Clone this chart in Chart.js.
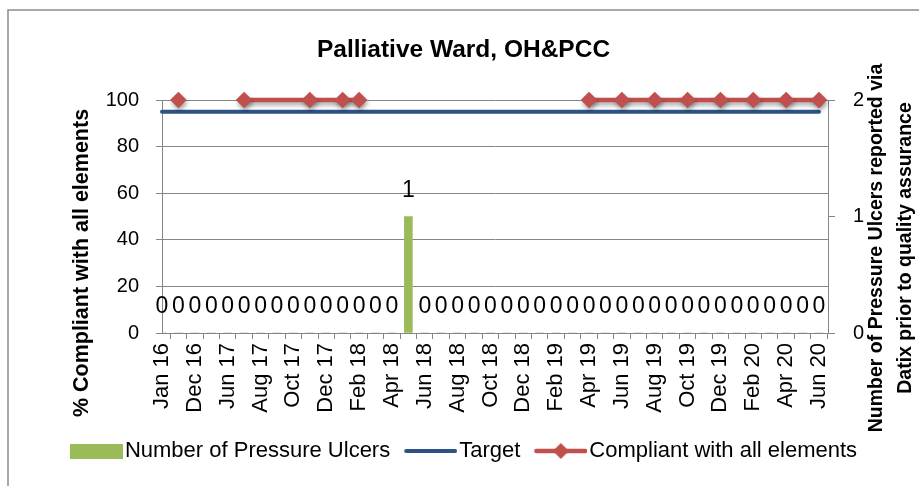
<!DOCTYPE html>
<html><head><meta charset="utf-8">
<script src="https://cdn.jsdelivr.net/npm/chart.js@4.4.1/dist/chart.umd.min.js"></script>
<style>html,body{margin:0;padding:0;background:#fff;}#wrap{width:919px;height:486px;position:relative;}</style>
</head><body><div id="wrap"><canvas id="c" width="919" height="486"></canvas></div>
<script>
const categories = ['Jan 16','Jul 16','Dec 16','Mar 17','Jun 17','Jul 17','Aug 17','Sep 17','Oct 17','Nov 17','Dec 17','Jan 18','Feb 18','Mar 18','Apr 18','May 18','Jun 18','Jul 18','Aug 18','Sep 18','Oct 18','Nov 18','Dec 18','Jan 19','Feb 19','Mar 19','Apr 19','May 19','Jun 19','Jul 19','Aug 19','Sep 19','Oct 19','Nov 19','Dec 19','Jan 20','Feb 20','Mar 20','Apr 20','May 20','Jun 20'];
const tickLabels = ['Jan 16','','Dec 16','','Jun 17','','Aug 17','','Oct 17','','Dec 17','','Feb 18','','Apr 18','','Jun 18','','Aug 18','','Oct 18','','Dec 18','','Feb 19','','Apr 19','','Jun 19','','Aug 19','','Oct 19','','Dec 19','','Feb 20','','Apr 20','','Jun 20'];
const pressureUlcers = [0,0,0,0,0,0,0,0,0,0,0,0,0,0,0,1,0,0,0,0,0,0,0,0,0,0,0,0,0,0,0,0,0,0,0,0,0,0,0,0,0];
const target = [95,95,95,95,95,95,95,95,95,95,95,95,95,95,95,95,95,95,95,95,95,95,95,95,95,95,95,95,95,95,95,95,95,95,95,95,95,95,95,95,95];
const compliant = [null,100,null,null,null,100,null,null,null,100,null,100,100,null,null,null,null,null,null,null,null,null,null,null,null,null,100,null,100,null,100,null,100,null,100,null,100,null,100,null,100];
const compliantBreaksBefore = [5,26];
const leftTicks = [0,20,40,60,80,100];
const rightTicks = [0,1,2];
const chartTitle = 'Palliative Ward, OH&PCC';
const leftTitle = '% Compliant with all elements';
const rightTitle = ['Number of Pressure Ulcers reported via','Datix prior to quality assurance'];
const seriesNames = ['Number of Pressure Ulcers','Target','Compliant with all elements'];

const FONT = "'Liberation Sans', Arial, sans-serif";
const GREEN = '#9BBB59', BLUE = '#2D5386', RED = '#C0504D', GREY = '#868686';

function toXY(arr){ return arr.map((v,i)=>({x:i,y:v})); }

function legendIcon(kind){
  const c = document.createElement('canvas');
  c.width = 62; c.height = 22;
  const g = c.getContext('2d');
  const x0 = 9, x1 = 62, cy = 11;
  if (kind === 'bar'){ g.fillStyle = GREEN; g.fillRect(x0, cy-7, x1-x0, 15); }
  else if (kind === 'target'){ g.strokeStyle = BLUE; g.lineWidth = 4; g.lineCap='round'; g.beginPath(); g.moveTo(x0+2,cy); g.lineTo(x1-2,cy); g.stroke(); }
  else {
    g.strokeStyle = RED; g.lineWidth = 4.5; g.lineCap='round'; g.beginPath(); g.moveTo(x0+2,cy); g.lineTo(x1-2,cy); g.stroke();
    const mx=(x0+x1)/2, r=8; g.fillStyle=RED; g.beginPath(); g.moveTo(mx-r,cy); g.lineTo(mx,cy-r); g.lineTo(mx+r,cy); g.lineTo(mx,cy+r); g.closePath(); g.fill();
  }
  return c;
}
const icons = [legendIcon('bar'), legendIcon('target'), legendIcon('line')];

const bgPlugin = {
  id:'bgBorder',
  beforeDraw(chart){
    const ctx = chart.ctx; ctx.save();
    ctx.fillStyle = '#fff'; ctx.fillRect(0,0,chart.width,chart.height);
    ctx.strokeStyle = '#8c8c8c'; ctx.lineWidth = 1.5;
    ctx.strokeRect(8, 10, 930, 500);
    ctx.restore();
  }
};
const shadowPlugin = {
  id:'lineShadow',
  beforeDatasetDraw(chart, args){
    if (args.index !== 2) return;
    const ctx = chart.ctx; ctx.save();
    ctx.shadowColor = 'rgba(0,0,0,0.35)'; ctx.shadowBlur = 4; ctx.shadowOffsetX = 1; ctx.shadowOffsetY = 3;
  },
  afterDatasetDraw(chart, args){ if (args.index === 2) chart.ctx.restore(); }
};
const labelPlugin = {
  id:'barLabels',
  afterDatasetsDraw(chart){
    const meta = chart.getDatasetMeta(0); const ctx = chart.ctx;
    ctx.save(); ctx.font = '23px ' + FONT; ctx.fillStyle = '#000'; ctx.textAlign='center'; ctx.textBaseline='middle';
    meta.data.forEach((el,i)=>{ ctx.fillText(String(pressureUlcers[i]), el.x, el.y - 26); });
    ctx.restore();
  }
};
const axisTitlePlugin = {
  id:'axisTitles',
  afterDraw(chart){
    const ctx = chart.ctx; ctx.save(); ctx.fillStyle='#000'; ctx.textAlign='center'; ctx.textBaseline='middle';
    ctx.font = 'bold 21.5px ' + FONT;
    ctx.save(); ctx.translate(82, 263); ctx.rotate(-Math.PI/2); ctx.fillText(leftTitle, 0, 0); ctx.restore();
    ctx.font = 'bold 19.5px ' + FONT;
    ctx.save(); ctx.translate(877, 248); ctx.rotate(-Math.PI/2); ctx.fillText(rightTitle[0], 0, 0); ctx.restore();
    ctx.save(); ctx.translate(906, 248); ctx.rotate(-Math.PI/2); ctx.fillText(rightTitle[1], 0, 0); ctx.restore();
    ctx.restore();
  }
};

new Chart(document.getElementById('c'), {
  type:'bar',
  data:{ datasets:[
    { type:'bar', label:seriesNames[0], data:toXY(pressureUlcers), yAxisID:'y1', backgroundColor:GREEN, barThickness:8, order:3 },
    { type:'line', label:seriesNames[1], data:toXY(target), yAxisID:'y', borderColor:BLUE, borderWidth:4, borderCapStyle:'round', pointRadius:0, order:2, clip:false },
    { type:'line', label:seriesNames[2], data:toXY(compliant), yAxisID:'y', borderColor:RED, backgroundColor:RED, borderWidth:4.5, borderCapStyle:'round',
      pointStyle:'rectRot', pointRadius:8.3, pointBorderWidth:0, pointBackgroundColor:RED, spanGaps:true, order:1, clip:false,
      segment:{ borderColor: c => compliantBreaksBefore.includes(c.p1DataIndex) ? 'rgba(0,0,0,0)' : RED } }
  ]},
  options:{
    responsive:false, animation:false, devicePixelRatio:1,
    layout:{ padding:{ left:8, right:0, top:17, bottom:14 } },
    plugins:{
      tooltip:{enabled:false},
      title:{ display:true, text:chartTitle, color:'#000', font:{family:FONT, size:24.5, weight:'bold'}, padding:{top:18.3, bottom:35.3} },
      legend:{ position:'bottom', labels:{ usePointStyle:true, pointStyleWidth:44, boxHeight:22, padding:14, color:'#000', font:{family:FONT, size:22},
        generateLabels: () => seriesNames.map((n,i)=>({ text:n, pointStyle:icons[i], fillStyle:'rgba(0,0,0,0)', strokeStyle:'rgba(0,0,0,0)', lineWidth:0, hidden:false, datasetIndex:i })) } }
    },
    scales:{
      x:{ type:'linear', min:0, max:40.55, bounds:'data', offset:false,
        ticks:{ stepSize:1, autoSkip:false, includeBounds:false, minRotation:90, maxRotation:90, padding:4, color:'#000', font:{family:FONT, size:22},
          callback:(v,i)=> tickLabels[i] ?? '' },
        grid:{ drawOnChartArea:false, drawTicks:true, tickLength:6, color:GREY },
        border:{ color:GREY, width:1 },
        afterFit: s => { s.height = 93; } },
      y:{ position:'left', min:0, max:100, afterBuildTicks: s => { s.ticks = leftTicks.map(v=>({value:v})); },
        ticks:{ padding:17, color:'#000', font:{family:FONT, size:20} },
        grid:{ color:GREY, tickLength:6, drawTicks:true }, border:{ color:GREY },
        afterFit: s => { s.width = 154; } },
      y1:{ position:'right', min:0, max:2, afterBuildTicks: s => { s.ticks = rightTicks.map(v=>({value:v})); },
        ticks:{ padding:18, color:'#000', font:{family:FONT, size:20} },
        grid:{ drawOnChartArea:false, tickLength:7, color:GREY }, border:{ color:GREY },
        afterFit: s => { s.width = 91; } }
    }
  },
  plugins:[bgPlugin, shadowPlugin, labelPlugin, axisTitlePlugin]
});
</script></body></html>
